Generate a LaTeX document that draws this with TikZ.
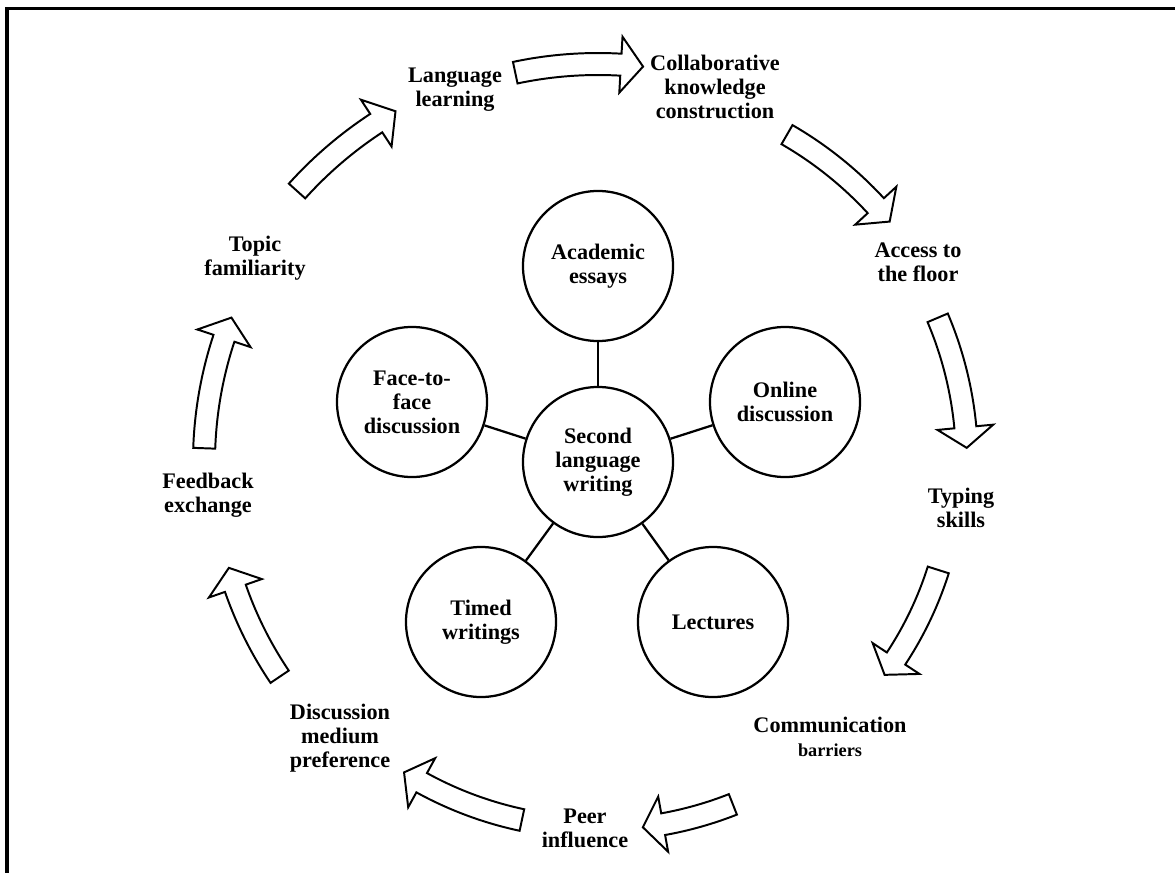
\documentclass[tikz,border=0pt]{standalone}
\usepackage{fontspec}
\setmainfont{Liberation Serif}
\usepackage{tikz}
\usetikzlibrary{calc,positioning}

% hollow arrow bent round the ring: radius, start angle, end angle
\newcommand{\ringarrow}[3]{%
  \pgfmathsetmacro{\rout}{#1+11}%
  \pgfmathsetmacro{\rin}{#1-11}%
  \pgfmathsetmacro{\hout}{#1+28}%
  \pgfmathsetmacro{\hin}{#1-28}%
  \pgfmathsetmacro{\ahead}{#3-3.2}%
  \draw[flowarrow] ($(ring)+(#2:\rout)$) arc[start angle=#2, end angle=\ahead, radius=\rout]
    -- ($(ring)+(\ahead:\hout)$) -- ($(ring)+(#3:#1)$) -- ($(ring)+(\ahead:\hin)$)
    -- ($(ring)+(\ahead:\rin)$) arc[start angle=\ahead, end angle=#2, radius=\rin] -- cycle;
}

\begin{document}
\begin{tikzpicture}[x=0.025cm,y=-0.025cm,
    lblfont/.style={font=\fontsize{15.8pt}{17pt}\selectfont\bfseries},
    setting/.style={circle, draw, line width=1.6pt, minimum size=3.75cm, inner sep=0pt, align=center, lblfont},
    factor/.style={align=center, inner sep=1pt, lblfont},
    spoke/.style={line width=1.6pt},
    flowarrow/.style={draw, fill=white, line width=1.4pt, line join=miter}]
    \useasboundingbox (0,0) rectangle (1175,873);
    \draw[line width=2.5pt] (7,873) -- (7,8.5) -- (1175,8.5);

    \coordinate (ring) at (598,462);

    % writing contexts
    \node[setting] (slw) at (598,462) {Second\\language\\writing};
    \node[setting] (essays) at (598,266) {Academic\\essays};
    \node[setting] (online) at (785,402) {Online\\discussion};
    \node[setting] (lectures) at (713,622) {Lectures};
    \node[setting] (timed) at (481,622) {Timed\\writings};
    \node[setting] (f2f) at (412,402) {Face-to-\\face\\discussion};
    \foreach \n in {essays,online,lectures,timed,f2f}
        \draw[spoke] (slw) -- (\n);

    % factors round the ring
    \node[factor] (lang) at (455,90) {Language\\learning};
    \node[factor] (collab) at (715,87) {Collaborative\\knowledge\\construction};
    \node[factor] (access) at (918,262) {Access to\\the floor};
    \node[factor] (typing) at (961,508) {Typing\\skills};
    \node[factor] (comm) at (830,737) {Communication\\{\fontsize{13pt}{15pt}\selectfont barriers}};
    \node[factor] (peer) at (585,828) {Peer\\influence};
    \node[factor] (medium) at (340,738) {Discussion\\medium\\preference};
    \node[factor] (feedback) at (208,495) {Feedback\\exchange};
    \node[factor] (topic) at (255,258) {Topic\\familiarity};

    \foreach \r/\a/\b in {398/-102/-83.5, 378/-60/-39.5, 369/-23/-2.2, 357/17.6/36.6,
        368/68.5/83, 366/102/122, 384/146/164, 394/182/201.5, 405/222/240}
        \ringarrow{\r}{\a}{\b};
\end{tikzpicture}
\end{document}
